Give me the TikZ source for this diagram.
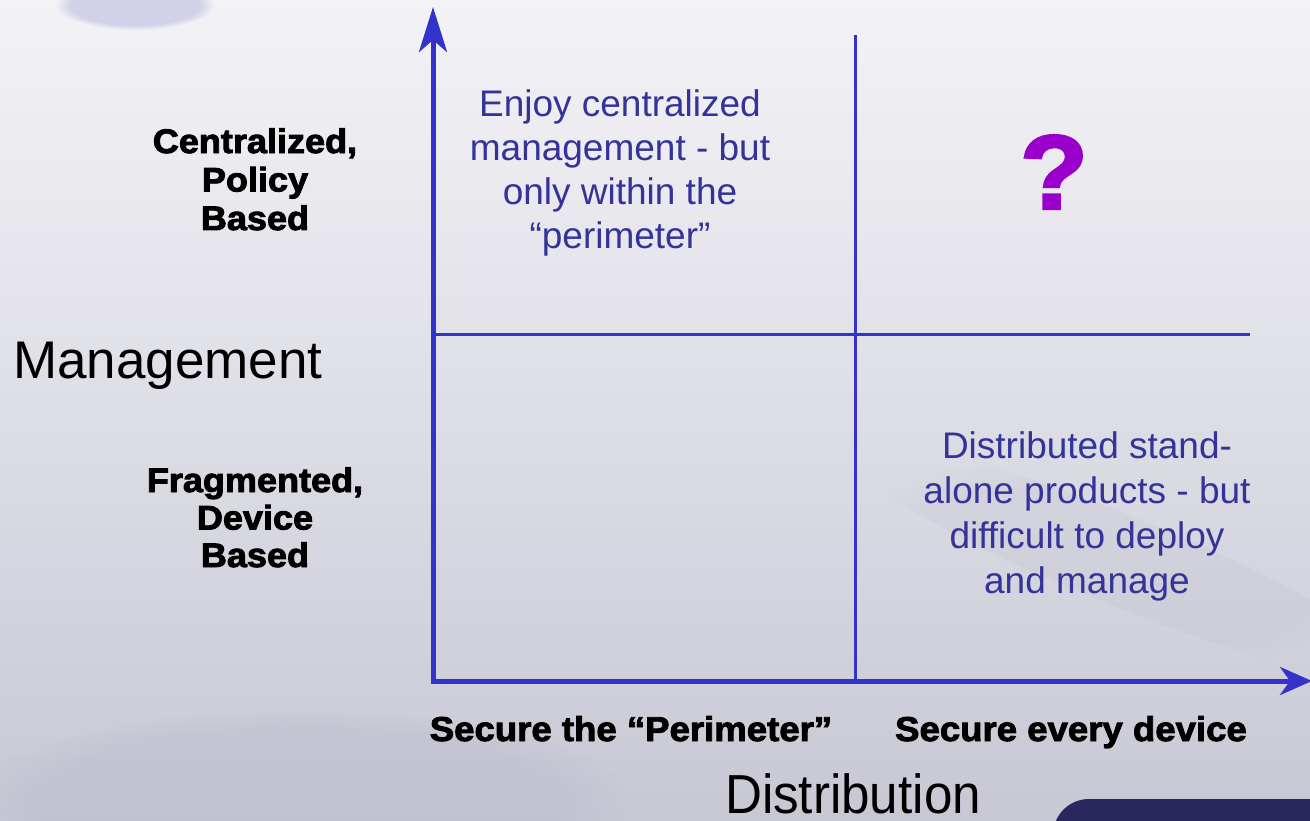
\documentclass[tikz,border=0pt]{standalone}
\usepackage{fontspec}
\setmainfont{Liberation Sans}
\newfontfamily\blackfont[FakeBold=2.6,FakeStretch=1.06]{Liberation Sans Bold}
\newfontfamily\narrowfont[FakeStretch=0.93]{Liberation Sans}
\usetikzlibrary{arrows.meta,fadings}
\definecolor{axisblue}{RGB}{51,51,204}
\definecolor{quadtext}{RGB}{51,51,153}
\definecolor{qmark}{RGB}{153,0,204}
\definecolor{bgtop}{RGB}{243,243,246}
\definecolor{bgmid}{RGB}{235,235,240}
\definecolor{bgbot}{RGB}{200,200,213}
\definecolor{streak}{RGB}{175,175,195}
\definecolor{blob}{RGB}{160,160,210}
\definecolor{logo}{RGB}{40,40,94}
\begin{document}
\begin{tikzpicture}[x=1pt,y=-1pt,
  axis/.style={line width=5pt, draw=axisblue},
  axishead/.style={-{Stealth[length=45pt,width=28pt,inset=12pt]}},
  divider/.style={line width=3pt, draw=axisblue},
  quad/.style={align=center, text=quadtext, font=\fontsize{37}{44}\selectfont, inner sep=0pt, anchor=base},
  level/.style={align=center, font=\blackfont\fontsize{34}{38}\selectfont, inner sep=0pt, anchor=base},
  axislabel/.style={font=\blackfont\fontsize{34.5}{40}\selectfont, inner sep=0pt, anchor=base},
  title/.style={inner sep=0pt, anchor=base},
  soft/.style={path fading=circle with fuzzy edge 20 percent}
]
\useasboundingbox (0,0) rectangle (1310,821);
\clip (0,0) rectangle (1310,821);
% background
\shade[top color=bgtop, middle color=bgmid, bottom color=bgbot] (0,0) rectangle (1310,821);
\fill[blob, opacity=0.4, soft] (135,5) ellipse (80 and 25);
\fill[streak, opacity=0.25, soft] (300,800) ellipse (330 and 90);
\fill[streak, opacity=0.12, soft, rotate around={-22:(1120,560)}] (1120,560) ellipse (300 and 45);
\fill[logo, rounded corners=36pt] (1053,870) rectangle (1400,799);
% axes
\coordinate (O) at (433,683.5);
\coordinate (Ytip) at (433,7);
\coordinate (Xstart) at (430.5,681);
\coordinate (Xtip) at (1312,681);
\draw[axis, axishead] (O) -- (Ytip);
\draw[axis, -{Stealth[length=32pt,width=28pt,inset=10pt]}] (Xstart) -- (Xtip);
% dividers
\coordinate (Vtop) at (855,35);
\coordinate (Vbot) at (855,681);
\coordinate (Hleft) at (433,334);
\coordinate (Hright) at (1250,334);
\draw[divider] (Vtop) -- (Vbot);
\draw[divider] (Hleft) -- (Hright);
% quadrant texts (anchor = baseline of last line)
\node[quad] (q1) at (620,248.5) {Enjoy centralized\\management - but\\only within the\\“perimeter”};
\node[quad, font=\fontsize{37}{45}\selectfont] (q4) at (1087,593) {Distributed stand-\\alone products - but\\difficult to deploy\\and manage};
\node[text=qmark, font=\blackfont\fontsize{105}{105}\selectfont, inner sep=0pt] (q2) at (1054,172) {?};
% management levels
\node[level, font=\blackfont\fontsize{34}{38.5}\selectfont] (central) at (255,230) {Centralized,\\Policy\\Based};
\node[level, font=\blackfont\fontsize{34}{37.5}\selectfont] (frag) at (255,567) {Fragmented,\\Device\\Based};
\node[title, anchor=base west, font=\fontsize{53}{60}\selectfont] (mgmt) at (13,378) {Management};
% distribution levels
\node[axislabel] (perim) at (631,741) {Secure the “Perimeter”};
\node[axislabel] (every) at (1071,741) {Secure every device};
\node[title, font=\narrowfont\fontsize{55}{60}\selectfont] (dist) at (853,813) {Distribution};
\end{tikzpicture}
\end{document}
